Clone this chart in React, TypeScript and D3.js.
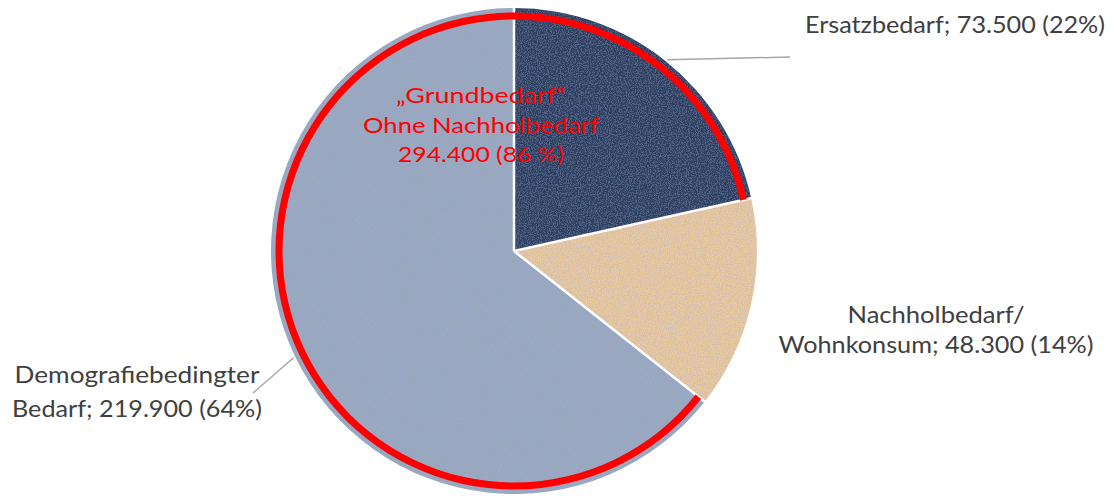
import React from "react";
import * as d3 from "d3";

const categories = ["Ersatzbedarf", "Nachholbedarf/Wohnkonsum", "Demografiebedingter Bedarf"];
const categoryLines = [["Ersatzbedarf"], ["Nachholbedarf/", "Wohnkonsum"], ["Demografiebedingter", "Bedarf"]];
const values = [73500, 48300, 219900];
const colors = ["#2c405f", "#e7c99b", "#97a8bd"];
const highlightLines = ["„Grundbedarf“", "Ohne Nachholbedarf"];
const highlightValue = 294400;
const highlightPercent = 86;

const W = 1114;
const H = 496;
const cx = 514;
const cy = 251;
const R = 243;

const de = d3.formatLocale({ decimal: ",", thousands: ".", grouping: [3], currency: ["", " €"] });
const fmt = de.format(",.0f");

// label layout: anchor x, baselines, target widths
const labelLayout = [
  { x: 955, ys: [33], widths: [300] },
  { x: 936, ys: [323, 353], widths: [177, 315] },
  { x: 137, ys: [383, 417], widths: [245, 250] },
];
const leaderEnds: ([number, number] | null)[] = [[790, 57], null, [253, 393]];
const highlightLayout = { x: 481, ys: [103, 133, 162], widths: [170, 236, 166] };

export default function App() {
  const total = d3.sum(values);
  const pie = d3.pie<number>().sort(null).value((d) => d)(values);
  const arc = d3.arc<d3.PieArcDatum<number>>().innerRadius(0).outerRadius(R);

  const startHighlight = pie[1].endAngle;
  const endHighlight = 2 * Math.PI + pie[0].endAngle;
  const redArc = d3.arc()({
    innerRadius: 231.5,
    outerRadius: 238.5,
    startAngle: startHighlight,
    endAngle: endHighlight,
  } as any) as string;

  const labels = pie.map((p, i) => {
    const pct = Math.round((values[i] / total) * 100);
    const lines = categoryLines[i].slice();
    lines[lines.length - 1] = `${lines[lines.length - 1]}; ${fmt(values[i])} (${pct}%)`;
    return lines;
  });

  const redLines = [...highlightLines, `${fmt(highlightValue)} (${highlightPercent} %)`];

  return (
    <svg
      width={W}
      height={H}
      style={{ position: "absolute", left: 0, top: 0, background: "#fff" }}
      fontFamily="Lato, 'Open Sans', sans-serif"
    >
      <defs>
        <filter id="grain" x="0" y="0" width="100%" height="100%">
          <feTurbulence type="fractalNoise" baseFrequency="0.9" numOctaves="2" seed="4" result="n" />
          <feColorMatrix
            in="n"
            type="matrix"
            values="0 0 0 0 0.42  0 0 0 0 0.38  0 0 0 0 0.72  0 0 0 -6 3.3"
            result="dots"
          />
          <feComposite in="dots" in2="SourceGraphic" operator="in" />
        </filter>
      </defs>
      <g transform={`translate(${cx},${cy})`}>
        {pie.map((p, i) => (
          <path key={categories[i]} d={arc(p) as string} fill={colors[i]} />
        ))}
        <circle r={R - 0.5} fill="#000" filter="url(#grain)" opacity={0.3} />
        {pie.map((p, i) => (
          <line
            key={"s" + i}
            x1={0}
            y1={0}
            x2={Math.sin(p.startAngle) * (R + 1)}
            y2={-Math.cos(p.startAngle) * (R + 1)}
            stroke="#ffffff"
            strokeWidth={2.5}
          />
        ))}
        <path d={redArc} fill="#ff0000" />
        {pie.map((p, i) => {
          const end = leaderEnds[i];
          if (!end) return null;
          const a = (p.startAngle + p.endAngle) / 2;
          const sx = Math.sin(a) * (R + 2);
          const sy = -Math.cos(a) * (R + 2);
          return (
            <line key={"l" + i} x1={sx} y1={sy} x2={end[0] - cx} y2={end[1] - cy} stroke="#a6a6a6" strokeWidth={1.5} />
          );
        })}
      </g>
      {labels.map((lines, i) =>
        lines.map((t, j) => (
          <text
            key={`t${i}-${j}`}
            x={labelLayout[i].x}
            y={labelLayout[i].ys[j]}
            textAnchor="middle"
            fontSize={24}
            fill="#404040"
            textLength={labelLayout[i].widths[j]}
            lengthAdjust="spacingAndGlyphs"
          >
            {t}
          </text>
        ))
      )}
      {redLines.map((t, j) => (
        <text
          key={`r${j}`}
          x={highlightLayout.x}
          y={highlightLayout.ys[j]}
          textAnchor="middle"
          fontSize={22}
          fill="#ff0000"
          textLength={highlightLayout.widths[j]}
          lengthAdjust="spacingAndGlyphs"
        >
          {t}
        </text>
      ))}
    </svg>
  );
}
